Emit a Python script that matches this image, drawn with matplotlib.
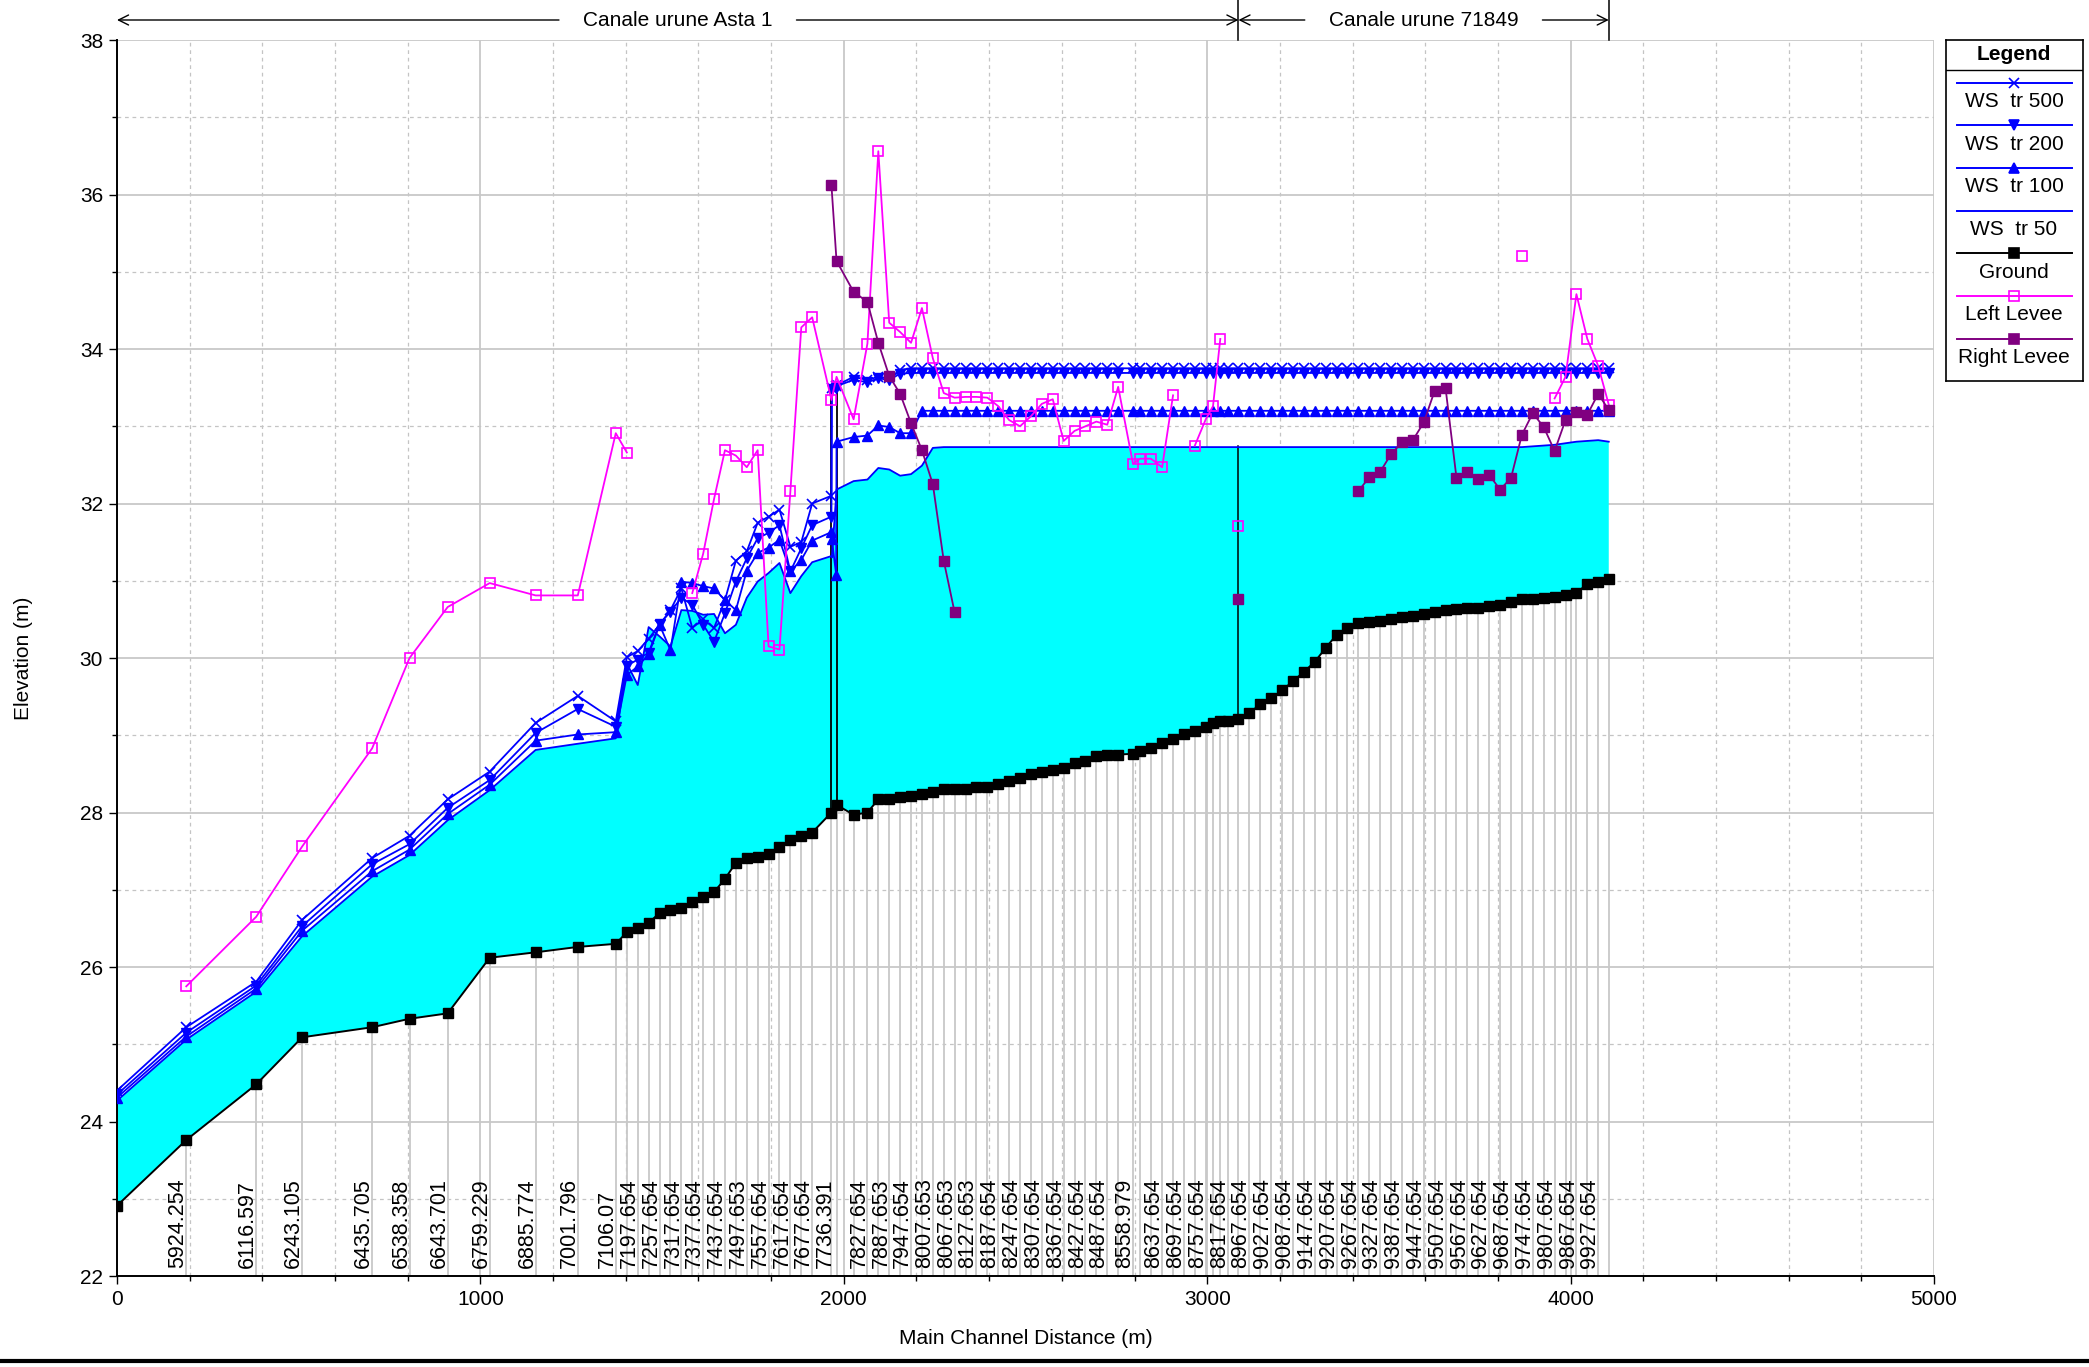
import numpy as np
import matplotlib
matplotlib.use("Agg")
import matplotlib.pyplot as plt
import matplotlib.transforms as mtransforms
from matplotlib.lines import Line2D
from matplotlib.ticker import MultipleLocator

plt.rcParams['font.family'] = ['Liberation Sans', 'DejaVu Sans']
plt.rcParams['font.size'] = 15

# cross sections along the main channel (m) and their invert elevation (m)
sec_dist = [
    0, 190.6, 383, 509.5, 702, 805, 910, 1025.6, 1152, 1268, 1372.5,
    1403, 1433, 1463, 1493, 1523, 1553, 1583, 1613, 1643, 1673, 1703, 1733,
    1763, 1793, 1823, 1853, 1883, 1913,
    1966, 1980, 2027,
    2065, 2095, 2125, 2155, 2185, 2215, 2245, 2275, 2305, 2335, 2365, 2395,
    2425, 2455, 2485, 2515, 2545, 2575, 2605, 2635, 2665, 2695, 2725, 2755,
    2796, 2815, 2845, 2876, 2906, 2936, 2966, 2996, 3016, 3036, 3056, 3086,
    3116, 3146, 3176, 3206, 3236, 3266, 3296, 3326, 3356, 3386, 3416, 3446,
    3476, 3506, 3536, 3566, 3596, 3626, 3656, 3686, 3716, 3746, 3776, 3806,
    3836, 3866, 3896, 3926, 3956, 3986, 4016, 4046, 4076,
    4105,
]
ground = [
    22.91, 23.76, 24.48, 25.09, 25.22, 25.33, 25.40, 26.12, 26.19, 26.26, 26.30,
    26.45, 26.51, 26.57, 26.70, 26.74, 26.76, 26.84, 26.91, 26.97, 27.14, 27.35, 27.41,
    27.43, 27.46, 27.55, 27.64, 27.70, 27.74,
    28.00, 28.10, 27.97,
    28.00, 28.17, 28.18, 28.20, 28.22, 28.24, 28.26, 28.30, 28.30, 28.31, 28.33, 28.33,
    28.37, 28.41, 28.45, 28.50, 28.53, 28.55, 28.57, 28.64, 28.67, 28.73, 28.74, 28.75,
    28.76, 28.80, 28.83, 28.90, 28.95, 29.01, 29.06, 29.11, 29.16, 29.18, 29.19, 29.21,
    29.29, 29.40, 29.48, 29.58, 29.70, 29.82, 29.95, 30.13, 30.30, 30.39, 30.45, 30.47,
    30.48, 30.51, 30.53, 30.55, 30.57, 30.59, 30.62, 30.64, 30.65, 30.65, 30.67, 30.69,
    30.73, 30.76, 30.77, 30.78, 30.79, 30.81, 30.84, 30.96, 30.99,
    31.02,
]

# river station labels written under the sections
label_dist = [190.6, 383, 509.5, 702, 805, 910, 1025.6, 1152, 1268, 1372.5,
              1433, 1493, 1553, 1613, 1673, 1733, 1793, 1853, 1913, 1973,
              2065, 2125, 2185, 2245, 2305, 2365, 2425, 2485, 2545, 2605, 2665, 2725,
              2796, 2876, 2936, 2996, 3056, 3116, 3176, 3236, 3296, 3356, 3416, 3476,
              3536, 3596, 3656, 3716, 3776, 3836, 3896, 3956, 4016, 4076]
label_text = ['5924.254', '6116.597', '6243.105', '6435.705', '6538.358', '6643.701',
              '6759.229', '6885.774', '7001.796', '7106.07',
              '7197.654', '7257.654', '7317.654', '7377.654', '7437.654', '7497.653',
              '7557.654', '7617.654', '7677.654', '7736.391',
              '7827.654', '7887.653', '7947.654', '8007.653', '8067.653', '8127.653',
              '8187.654', '8247.654', '8307.654', '8367.654', '8427.654', '8487.654',
              '8558.979', '8637.654', '8697.654', '8757.654', '8817.654', '8967.654',
              '9027.654', '9087.654', '9147.654', '9207.654', '9267.654', '9327.654',
              '9387.654', '9447.654', '9507.654', '9567.654', '9627.654', '9687.654',
              '9747.654', '9807.654', '9867.654', '9927.654']

# water surface profiles (bridge adds two inner sections at 1967 / 1979)
ws_dist = [
    0, 190.6, 383, 509.5, 702, 805, 910, 1025.6, 1152, 1268, 1372.5,
    1403, 1433, 1463, 1493, 1523, 1553, 1583, 1613, 1643, 1673, 1703, 1733,
    1763, 1793, 1823, 1853, 1883, 1913,
    1966, 1967, 1979, 1980, 2027,
    2065, 2095, 2125, 2155, 2185, 2215, 2245, 2275, 2305, 2335, 2365, 2395,
    2425, 2455, 2485, 2515, 2545, 2575, 2605, 2635, 2665, 2695, 2725, 2755,
    2796, 2815, 2845, 2876, 2906, 2936, 2966, 2996, 3016, 3036, 3056, 3086,
    3116, 3146, 3176, 3206, 3236, 3266, 3296, 3326, 3356, 3386, 3416, 3446,
    3476, 3506, 3536, 3566, 3596, 3626, 3656, 3686, 3716, 3746, 3776, 3806,
    3836, 3866, 3896, 3926, 3956, 3986, 4016, 4046, 4076,
    4105,
]
ws_500 = [
    24.40, 25.22, 25.81, 26.61, 27.41, 27.70, 28.17, 28.53, 29.16, 29.51, 29.18,
    30.01, 30.09, 30.25, 30.43, 30.62, 30.90, 30.39, 30.50, 30.39, 30.75, 31.26, 31.38,
    31.75, 31.83, 31.92, 31.44, 31.50, 32.00,
    32.10, 33.50, 33.52, 33.53, 33.64,
    33.60, 33.64, 33.62, 33.73, 33.75, 33.75, 33.75, 33.75, 33.75, 33.75, 33.75, 33.75,
    33.75, 33.75, 33.75, 33.75, 33.75, 33.75, 33.75, 33.75, 33.75, 33.75, 33.75, 33.75,
    33.75, 33.75, 33.75, 33.75, 33.75, 33.75, 33.75, 33.75, 33.75, 33.75, 33.75, 33.75,
    33.75, 33.75, 33.75, 33.75, 33.75, 33.75, 33.75, 33.75, 33.75, 33.75, 33.75, 33.75,
    33.75, 33.75, 33.75, 33.75, 33.75, 33.75, 33.75, 33.75, 33.75, 33.75, 33.75, 33.75,
    33.75, 33.75, 33.75, 33.75, 33.75, 33.75, 33.75, 33.75, 33.75,
    33.75,
]
ws_200 = [
    24.35, 25.15, 25.76, 26.53, 27.33, 27.59, 28.06, 28.42, 29.03, 29.34, 29.11,
    29.90, 29.98, 30.07, 30.44, 30.60, 30.78, 30.69, 30.43, 30.21, 30.58, 30.99, 31.29,
    31.55, 31.62, 31.72, 31.12, 31.42, 31.72,
    31.83, 33.48, 33.50, 33.52, 33.60,
    33.57, 33.62, 33.60, 33.68, 33.69, 33.69, 33.69, 33.69, 33.69, 33.69, 33.69, 33.69,
    33.69, 33.69, 33.69, 33.69, 33.69, 33.69, 33.69, 33.69, 33.69, 33.69, 33.69, 33.69,
    33.69, 33.69, 33.69, 33.69, 33.69, 33.69, 33.69, 33.69, 33.69, 33.69, 33.69, 33.69,
    33.69, 33.69, 33.69, 33.69, 33.69, 33.69, 33.69, 33.69, 33.69, 33.69, 33.69, 33.69,
    33.69, 33.69, 33.69, 33.69, 33.69, 33.69, 33.69, 33.69, 33.69, 33.69, 33.69, 33.69,
    33.69, 33.69, 33.69, 33.69, 33.69, 33.69, 33.69, 33.69, 33.69,
    33.69,
]
ws_100 = [
    24.31, 25.10, 25.72, 26.47, 27.24, 27.52, 27.98, 28.36, 28.93, 29.01, 29.04,
    29.78, 29.89, 30.05, 30.43, 30.10, 30.99, 30.97, 30.93, 30.90, 30.75, 30.62, 31.13,
    31.36, 31.43, 31.53, 31.12, 31.27, 31.52,
    31.63, 31.54, 31.08, 32.80, 32.86,
    32.88, 33.01, 32.99, 32.91, 32.91, 33.20, 33.20, 33.20, 33.20, 33.20, 33.20, 33.20,
    33.20, 33.20, 33.20, 33.20, 33.20, 33.20, 33.20, 33.20, 33.20, 33.20, 33.20, 33.20,
    33.20, 33.20, 33.20, 33.20, 33.20, 33.20, 33.20, 33.20, 33.20, 33.20, 33.20, 33.20,
    33.20, 33.20, 33.20, 33.20, 33.20, 33.20, 33.20, 33.20, 33.20, 33.20, 33.20, 33.20,
    33.20, 33.20, 33.20, 33.20, 33.20, 33.20, 33.20, 33.20, 33.20, 33.20, 33.20, 33.20,
    33.20, 33.20, 33.20, 33.20, 33.20, 33.20, 33.20, 33.20, 33.20,
    33.20,
]
ws_50 = [
    24.27, 25.06, 25.68, 26.40, 27.17, 27.45, 27.90, 28.29, 28.81, 28.89, 28.96,
    29.93, 29.65, 30.40, 30.28, 30.15, 30.62, 30.61, 30.56, 30.57, 30.32, 30.43, 30.78,
    30.99, 31.10, 31.23, 30.84, 31.06, 31.24,
    31.32, 31.30, 32.10, 32.18, 32.29,
    32.31, 32.46, 32.44, 32.36, 32.38, 32.49, 32.72, 32.73, 32.73, 32.73, 32.73, 32.73,
    32.73, 32.73, 32.73, 32.73, 32.73, 32.73, 32.73, 32.73, 32.73, 32.73, 32.73, 32.73,
    32.73, 32.73, 32.73, 32.73, 32.73, 32.73, 32.73, 32.73, 32.73, 32.73, 32.73, 32.73,
    32.73, 32.73, 32.73, 32.73, 32.73, 32.73, 32.73, 32.73, 32.73, 32.73, 32.73, 32.73,
    32.73, 32.73, 32.73, 32.73, 32.73, 32.73, 32.73, 32.73, 32.73, 32.73, 32.73, 32.73,
    32.73, 32.73, 32.74, 32.75, 32.76, 32.78, 32.80, 32.81, 32.82,
    32.80,
]

# levee crests (nan breaks the line where a section has no levee)
nan = np.nan
left_levee_dist = [190.6, 383, 509.5, 702, 805, 910, 1025.6, 1152, 1268, 1372.5, 1403, nan,
                   1583, 1613, 1643, 1673, 1703, 1733, 1763, 1793, 1823, 1853, 1883, 1913,
                   1966, 1980, 2027, 2065, 2095, 2125, 2155, 2185, 2215, 2245, 2275, 2305,
                   2335, 2365, 2395, 2425, 2455, 2485, 2515, 2545, 2575, 2605, 2635, 2665,
                   2695, 2725, 2755, 2796, 2815, 2845, 2876, 2906, nan,
                   2966, 2996, 3016, 3036, nan, 3086, nan, 3866, nan,
                   3956, 3986, 4016, 4046, 4076, 4105]
left_levee = [25.75, 26.65, 27.56, 28.83, 30.00, 30.66, 30.97, 30.81, 30.81, 32.91, 32.66, nan,
              30.84, 31.35, 32.06, 32.69, 32.62, 32.47, 32.69, 30.15, 30.11, 32.16, 34.28, 34.41,
              33.34, 33.64, 33.09, 34.07, 36.56, 34.34, 34.22, 34.08, 34.53, 33.88, 33.43, 33.37,
              33.38, 33.38, 33.37, 33.26, 33.08, 33.00, 33.13, 33.29, 33.35, 32.81, 32.94, 33.00,
              33.06, 33.02, 33.51, 32.51, 32.58, 32.58, 32.47, 33.40, nan,
              32.75, 33.09, 33.26, 34.13, nan, 31.71, nan, 35.21, nan,
              33.36, 33.64, 34.71, 34.13, 33.78, 33.28]
right_levee_dist = [1966, 1980, 2027, 2065, 2095, 2125, 2155, 2185, 2215, 2245, 2275, 2305, nan,
                    3086, nan,
                    3416, 3446, 3476, 3506, 3536, 3566, 3596, 3626, 3656, 3686, 3716, 3746,
                    3776, 3806, 3836, 3866, 3896, 3926, 3956, 3986, 4016, 4046, 4076, 4105]
right_levee = [36.12, 35.14, 34.74, 34.61, 34.08, 33.65, 33.42, 33.04, 32.69, 32.25, 31.26, 30.59, nan,
               30.77, nan,
               32.16, 32.34, 32.41, 32.64, 32.79, 32.82, 33.05, 33.46, 33.49, 32.33, 32.41, 32.32,
               32.37, 32.18, 32.33, 32.89, 33.17, 32.99, 32.68, 33.08, 33.18, 33.15, 33.42, 33.21]

# reaches along the profile
reach_names = ['Canale urune Asta 1', 'Canale urune 71849']
reach_start = [0, 3086]
reach_end = [3086, 4105]
bridge_dist = [1966, 1980]
junction_dist = 3086

BLUE = '#0000ff'
MAGENTA = '#ff00ff'
PURPLE = '#800080'
CYAN = '#00ffff'

W, H = 2089, 1367
fig = plt.figure(figsize=(W / 100, H / 100), dpi=100)
ax = fig.add_axes([117 / W, 1 - 1276 / H, (1934 - 117) / W, (1276 - 40) / H])
ax.set_xlim(0, 5000)
ax.set_ylim(22, 38)

# grid: solid major, dashed minor
ax.xaxis.set_major_locator(MultipleLocator(1000))
ax.xaxis.set_minor_locator(MultipleLocator(200))
ax.yaxis.set_major_locator(MultipleLocator(2))
ax.yaxis.set_minor_locator(MultipleLocator(1))
ax.set_axisbelow(True)
ax.grid(which='major', color='#c8c8c8', lw=1.3, ls='-')
ax.grid(which='minor', color='#c4c4c4', lw=0.9, ls=(0, (3, 3)))
for s in ['top', 'right']:
    ax.spines[s].set_visible(False)
for s in ['left', 'bottom']:
    ax.spines[s].set_linewidth(1.4)
ax.tick_params(which='major', length=6, width=1, pad=4, labelsize=15)
ax.tick_params(which='minor', length=3.5, width=1)

# section lines from the bottom of the plot up to the invert
ax.vlines(sec_dist, 22, ground, colors='#c8c8c8', lw=1.3, zorder=1.2)

# flow area for the 50-year profile
poly_x = list(ws_dist) + list(sec_dist[::-1])
poly_y = list(ws_50) + list(ground[::-1])
ax.fill(poly_x, poly_y, color=CYAN, lw=0, zorder=1.5)

ax.plot(ws_dist, ws_50, color=BLUE, lw=1.3, zorder=3)
ax.plot(ws_dist, ws_100, color=BLUE, lw=1.3, marker='^', ms=6.5, zorder=3.2)
ax.plot(ws_dist, ws_200, color=BLUE, lw=1.3, marker='v', ms=6.5, zorder=3.3)
ax.plot(ws_dist, ws_500, color=BLUE, lw=1.3, marker='x', ms=6.5, mew=1.2, zorder=3.4)

# bridge and junction marks
g = dict(zip(sec_dist, ground))
for d in bridge_dist:
    ax.plot([d, d], [g[d], 33.5], color='black', lw=1.3, zorder=2.8)
ax.plot([junction_dist, junction_dist], [g[junction_dist], 32.75], color='black', lw=1.1, zorder=2.8)

ax.plot(sec_dist, ground, color='black', lw=1.4, marker='s', ms=7.5, zorder=4)
ax.plot(left_levee_dist, left_levee, color=MAGENTA, lw=1.3, marker='s', ms=7.5,
        mfc='none', mec=MAGENTA, mew=1.2, zorder=5)
ax.plot(right_levee_dist, right_levee, color=PURPLE, lw=1.3, marker='s', ms=7.5,
        mfc=PURPLE, mec=PURPLE, zorder=5)

for d, t in zip(label_dist, label_text):
    ax.annotate(t, xy=(d, 22), xytext=(-6, 6), textcoords='offset points',
                rotation=90, ha='center', va='bottom', fontsize=15.5,
                annotation_clip=False, zorder=6)

ax.set_xlabel('Main Channel Distance (m)', fontsize=15)
ax.set_ylabel('Elevation (m)', fontsize=15)
ax.xaxis.set_label_coords(0.5, -0.043)
ax.yaxis.set_label_coords(-0.046, 0.5)

# reach bars above the plot
trans = mtransforms.blended_transform_factory(ax.transData, ax.transAxes)
ybar = 1 + 20 / 1236
fig.canvas.draw()
inv = ax.transData.inverted()
for name, x0, x1 in zip(reach_names, reach_start, reach_end):
    t = ax.text((x0 + x1) / 2, ybar, name, transform=trans, ha='center', va='center',
                fontsize=15, clip_on=False)
    bb = t.get_window_extent(renderer=fig.canvas.get_renderer())
    gap = 24
    xl = inv.transform((bb.x0 - gap, 0))[0]
    xr = inv.transform((bb.x1 + gap, 0))[0]
    ax.annotate('', xy=(x0, ybar), xytext=(xl, ybar), xycoords=trans, textcoords=trans,
                arrowprops=dict(arrowstyle='->', lw=1.0, color='black', shrinkA=0,
                                shrinkB=0, mutation_scale=18), annotation_clip=False)
    ax.annotate('', xy=(x1, ybar), xytext=(xr, ybar), xycoords=trans, textcoords=trans,
                arrowprops=dict(arrowstyle='->', lw=1.0, color='black', shrinkA=0,
                                shrinkB=0, mutation_scale=18), annotation_clip=False)
for x in reach_end:
    ax.plot([x, x], [1, 1 + 40 / 1236], transform=trans, color='black', lw=1.1, clip_on=False)

# legend panel, drawn in pixel coordinates
lax = fig.add_axes([1946 / W, 1 - 381 / H, (2083 - 1946) / W, (381 - 40) / H])
lax.set_xlim(1946, 2083)
lax.set_ylim(381, 40)
lax.set_xticks([])
lax.set_yticks([])
for s in lax.spines.values():
    s.set_linewidth(1.2)
lax.text(2014, 54, 'Legend', ha='center', va='center', fontsize=15, fontweight='bold')
lax.plot([1946, 2083], [70, 70], color='black', lw=1.0)
entries = [
    ('WS  tr 500', BLUE, 'x', BLUE, BLUE),
    ('WS  tr 200', BLUE, 'v', BLUE, BLUE),
    ('WS  tr 100', BLUE, '^', BLUE, BLUE),
    ('WS  tr 50', BLUE, None, BLUE, BLUE),
    ('Ground', 'black', 's', 'black', 'black'),
    ('Left Levee', MAGENTA, 's', 'none', MAGENTA),
    ('Right Levee', PURPLE, 's', PURPLE, PURPLE),
]
for i, (lab, col, mk, mfc, mec) in enumerate(entries):
    yl = 82.5 + i * 42.7
    lax.plot([1957, 2072], [yl, yl], color=col, lw=1.4)
    if mk is not None:
        lax.plot([2014], [yl], marker=mk, ms=7.5 if mk == 's' else 6.5, mfc=mfc, mec=mec,
                 mew=1.2, color=col)
    lax.text(2014, yl + 19, lab, ha='center', va='center', fontsize=15)

# bottom border of the sheet
fig.add_artist(Line2D([0, 1], [1 - 1361 / H, 1 - 1361 / H], transform=fig.transFigure,
                      color='black', lw=3))

for arr in (ws_500, ws_200, ws_100, ws_50):
    assert len(arr) == len(ws_dist)
assert len(ground) == len(sec_dist)

fig.savefig('out.png', dpi=100)
